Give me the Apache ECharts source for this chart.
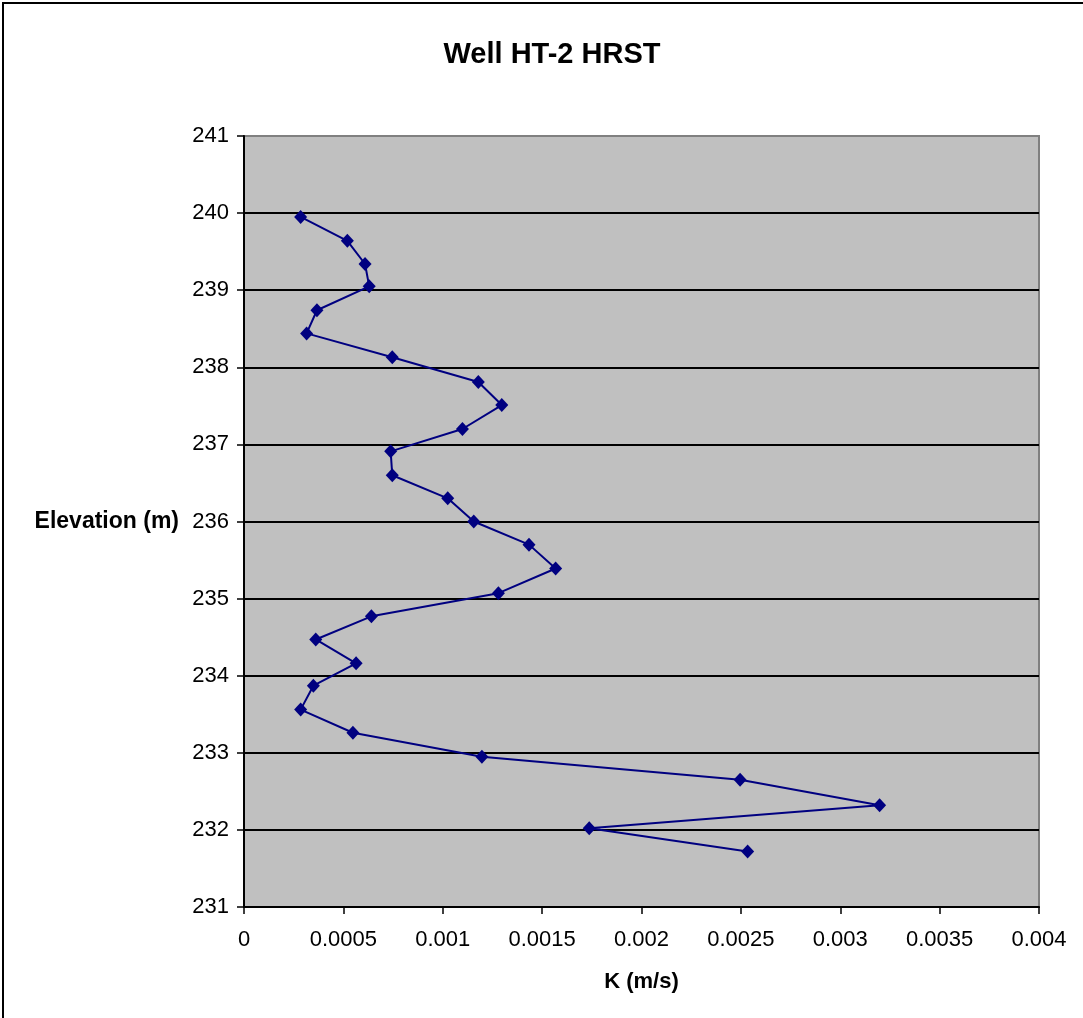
<!DOCTYPE html>
<html>
<head>
<meta charset="utf-8">
<script src="https://cdn.jsdelivr.net/npm/echarts@6/dist/echarts.min.js"></script>
<style>
html,body{margin:0;padding:0;background:#fff;}
#chart{width:1083px;height:1018px;}
</style>
</head>
<body>
<div id="chart"></div>
<script>
// Hydraulic conductivity K (m/s) by elevation (m), top to bottom
const elevation = [239.95, 239.64, 239.34, 239.05, 238.74, 238.44, 238.13, 237.81, 237.51, 237.20,
  236.91, 236.60, 236.30, 236.00, 235.70, 235.39, 235.07, 234.77, 234.47, 234.16,
  233.87, 233.56, 233.26, 232.95, 232.65, 232.32, 232.02, 231.72];
const kValues = [0.000285, 0.00052, 0.000609, 0.00063, 0.000367, 0.000315, 0.000746, 0.001179, 0.001297, 0.001099,
  0.000738, 0.000746, 0.001025, 0.001156, 0.001434, 0.001568, 0.00128, 0.000641, 0.000361, 0.000564,
  0.000349, 0.000285, 0.000548, 0.001197, 0.002496, 0.003198, 0.001737, 0.002534];
const xTicks = ['0', '0.0005', '0.001', '0.0015', '0.002', '0.0025', '0.003', '0.0035', '0.004'];
const yTicks = [231, 232, 233, 234, 235, 236, 237, 238, 239, 240, 241];

const seriesData = kValues.map((k, i) => [k, elevation[i]]);
const FONT = '"Liberation Sans", Arial, sans-serif';

const chart = echarts.init(document.getElementById('chart'), null, {renderer: 'canvas'});
chart.setOption({
  animation: false,
  backgroundColor: '#ffffff',
  title: {
    text: 'Well HT-2 HRST',
    left: 547,
    top: 35,
    textAlign: 'center',
    textStyle: {fontFamily: FONT, fontSize: 29, fontWeight: 'bold', color: '#000'}
  },
  graphic: [{
    type: 'rect',
    shape: {x: 3, y: 3, width: 1300, height: 1300},
    style: {fill: 'none', stroke: '#000', lineWidth: 2},
    silent: true,
    z: -10
  }],
  grid: {
    left: 244, right: 44, top: 136, bottom: 111,
    show: true,
    backgroundColor: '#C0C0C0',
    borderColor: '#808080',
    borderWidth: 2
  },
  xAxis: {
    type: 'value',
    min: 0, max: 0.004, interval: 0.0005,
    name: 'K (m/s)',
    nameLocation: 'middle',
    nameGap: 64,
    nameTextStyle: {fontFamily: FONT, fontSize: 22, fontWeight: 'bold', color: '#000'},
    axisLine: {show: true, onZero: false, lineStyle: {color: '#000', width: 2}},
    axisTick: {show: true, inside: false, length: 7, lineStyle: {color: '#000', width: 1.5}},
    axisLabel: {
      margin: 22,
      fontFamily: FONT, fontSize: 22, color: '#000',
      formatter: (v) => xTicks[Math.round(v / 0.0005)]
    },
    splitLine: {show: false}
  },
  yAxis: {
    type: 'value',
    min: 231, max: 241, interval: 1,
    name: 'Elevation (m)',
    nameLocation: 'middle',
    nameRotate: 0,
    nameGap: 65,
    nameTextStyle: {fontFamily: FONT, fontSize: 23, fontWeight: 'bold', color: '#000'},
    axisLine: {show: true, onZero: false, lineStyle: {color: '#000', width: 2}},
    axisTick: {show: true, inside: false, length: 7, lineStyle: {color: '#000', width: 1.5}},
    axisLabel: {
      margin: 15,
      fontFamily: FONT, fontSize: 22, color: '#000',
      formatter: (v) => String(yTicks[Math.round(v - 231)])
    },
    splitLine: {show: true, showMaxLine: false, showMinLine: false, lineStyle: {color: '#000', width: 2}}
  },
  series: [{
    type: 'line',
    data: seriesData,
    symbol: 'diamond',
    symbolSize: [13, 14],
    showAllSymbol: true,
    itemStyle: {color: '#000080'},
    lineStyle: {color: '#000080', width: 2},
    z: 5
  }]
});
</script>
</body>
</html>
